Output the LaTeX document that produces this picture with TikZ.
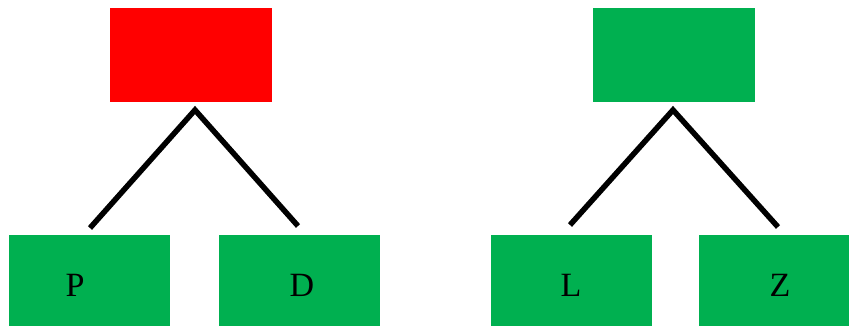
\documentclass[tikz,border=0pt]{standalone}
\usepackage{fontspec}
\setmainfont{Liberation Serif}
\definecolor{boxgreen}{RGB}{0,176,80}
\definecolor{boxred}{RGB}{255,0,0}
\begin{document}
\begin{tikzpicture}[x=1pt,y=1pt,
  topbox/.style={rectangle, draw=none, minimum width=162pt, minimum height=94pt, inner sep=0pt},
  leafbox/.style={rectangle, draw=none, fill=boxgreen, minimum width=161pt, minimum height=91pt, inner sep=0pt},
  leaftext/.style={font=\fontsize{34}{40}\selectfont, anchor=base, inner sep=0pt},
  branch/.style={line width=5.5pt, black}]
\useasboundingbox (0,0) rectangle (849,326);
\node[topbox, fill=boxred] (r) at (190.5,271) {};
\node[topbox, fill=boxgreen] (g) at (673.5,271) {};
\node[leafbox] (p) at (89.5,45.5) {};
\node[leafbox] (d) at (299.5,45.5) {};
\node[leafbox] (l) at (571.5,45.5) {};
\node[leafbox] (z) at (779.5,45.5) {};
\node[leaftext] (pt) at (75,29) {P};
\node[leaftext] (dt) at (302,29) {D};
\node[leaftext] (lt) at (571,29) {L};
\node[leaftext] (zt) at (780,29) {Z};
\coordinate (a1) at (195,216);
\coordinate (l1) at (90,98);
\coordinate (r1) at (298,100);
\coordinate (a2) at (673,216);
\coordinate (l2) at (570,101);
\coordinate (r2) at (778,99);
\draw[branch] (l1) -- (a1) -- (r1);
\draw[branch] (l2) -- (a2) -- (r2);
\end{tikzpicture}
\end{document}
